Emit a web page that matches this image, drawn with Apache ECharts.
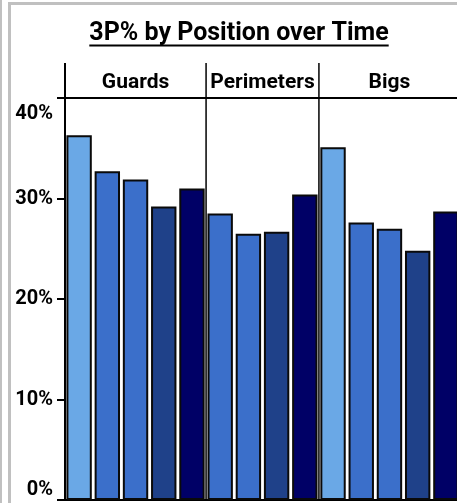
<!DOCTYPE html>
<html><head><meta charset="utf-8">
<script src="https://cdn.jsdelivr.net/npm/echarts@6/dist/echarts.min.js"></script>
<style>
html,body{margin:0;padding:0;background:#fff;overflow:hidden;width:457px;height:503px;position:relative}
#chart{position:absolute;left:0;top:0;width:470px;height:503px}
.f{position:absolute;background:#c0c0c0;z-index:5}
</style></head><body>
<div id="chart"></div>
<div class="f" style="left:0;top:0;width:2px;height:503px"></div>
<div class="f" style="left:8px;top:2px;width:3px;height:501px"></div>
<div class="f" style="left:8px;top:2px;width:449px;height:3px"></div>
<script>
// Data
const titleText = '3P% by Position over Time';
const groups = ['Guards', 'Perimeters', 'Bigs'];
const guards = [36.3, 32.7, 31.9, 29.2, 31.0];
const perimeters = [28.5, 26.5, 26.7, 30.4];
const bigs = [35.1, 27.6, 27.0, 24.8, 28.7];
const guardPeriods = [0, 1, 2, 3, 4];
const perimeterPeriods = [1, 2, 3, 4];
const bigPeriods = [0, 1, 2, 3, 4];
const periodColors = ['#6aa8e6', '#3b6fca', '#3b6fca', '#1f4189', '#000066'];
const yMin = 0, yMax = 40, yStep = 10;

const FONT = 'Roboto';
const groupValues = [guards, perimeters, bigs];
const groupPeriods = [guardPeriods, perimeterPeriods, bigPeriods];

const cats = [], data = [];
groupValues.forEach((vals, g) => {
  vals.forEach((v, i) => {
    cats.push(groups[g] + ' ' + (i + 1));
    data.push({ value: v, itemStyle: { color: periodColors[groupPeriods[g][i]] } });
  });
});

const chart = echarts.init(document.getElementById('chart'), null, { renderer: 'canvas' });
const option = {
  animation: false,
  backgroundColor: 'transparent',
  grid: { left: 65, top: 98, right: 10, bottom: 3, containLabel: false },
  xAxis: {
    type: 'category', data: cats,
    axisLabel: { show: false }, axisTick: { show: false },
    axisLine: { show: true, lineStyle: { color: '#000', width: 2 } }
  },
  yAxis: {
    type: 'value', min: yMin, max: yMax, interval: yStep,
    splitLine: { show: false },
    axisLine: { show: true, lineStyle: { color: '#000', width: 2 } },
    axisTick: { show: true, length: 8, lineStyle: { color: '#000', width: 2 } },
    axisLabel: {
      margin: 12, color: '#000', fontFamily: FONT, fontWeight: 'bold', fontSize: 20,
      formatter: v => v === yMax ? '{top|' + v + '%}' : v + '%',
      rich: { top: { color: '#000', fontFamily: FONT, fontWeight: 'bold', fontSize: 20, padding: [6, 0, 0, 0] } },
      verticalAlignMinLabel: 'bottom', verticalAlignMaxLabel: 'top'
    }
  },
  series: [{
    type: 'bar', data: data, barCategoryGap: '10%',
    itemStyle: { borderColor: '#0a0a0a', borderWidth: 2 }
  }]
};
chart.setOption(option);

// Header decorations positioned through the chart's own scales
const px = i => chart.convertToPixel({ xAxisIndex: 0 }, i);
const py = v => chart.convertToPixel({ yAxisIndex: 0 }, v);
const slot = px(1) - px(0);
const x0 = px(0) - slot / 2;
const yTop = py(yMax), yBot = py(yMin);
const headerTop = 63;
const elems = [];
const lineStyle = { stroke: '#000', lineWidth: 2 };
elems.push({ type: 'line', shape: { x1: x0, y1: headerTop, x2: x0, y2: yTop }, style: lineStyle, z: 10 });
elems.push({ type: 'line', shape: { x1: x0, y1: yTop, x2: 470, y2: yTop }, style: lineStyle, z: 10 });
let start = 0;
groupValues.forEach((vals, g) => {
  const end = start + vals.length;
  const left = x0 + start * slot, right = x0 + end * slot;
  if (g > 0) {
    elems.push({ type: 'line', shape: { x1: left, y1: headerTop, x2: left, y2: yBot }, style: { stroke: '#000', lineWidth: 1.5 }, z: 10 });
  }
  elems.push({ type: 'text', x: (left + right) / 2, y: 82.5, z: 10,
    style: { text: groups[g], fill: '#000', font: 'bold 21px ' + FONT, align: 'center', verticalAlign: 'middle' } });
  start = end;
});
// Title with underline
const tx = 239;
const c = document.createElement('canvas').getContext('2d');
c.font = 'bold 25px ' + FONT;
const tw = c.measureText(titleText).width;
elems.push({ type: 'text', x: tx, y: 33.5, z: 10,
  style: { text: titleText, fill: '#000', font: 'bold 25px ' + FONT, align: 'center', verticalAlign: 'middle' } });
elems.push({ type: 'line', shape: { x1: tx - tw / 2, y1: 45.5, x2: tx + tw / 2, y2: 45.5 }, style: { stroke: '#000', lineWidth: 2 }, z: 10 });
chart.setOption({ graphic: elems });
</script>
</body></html>
